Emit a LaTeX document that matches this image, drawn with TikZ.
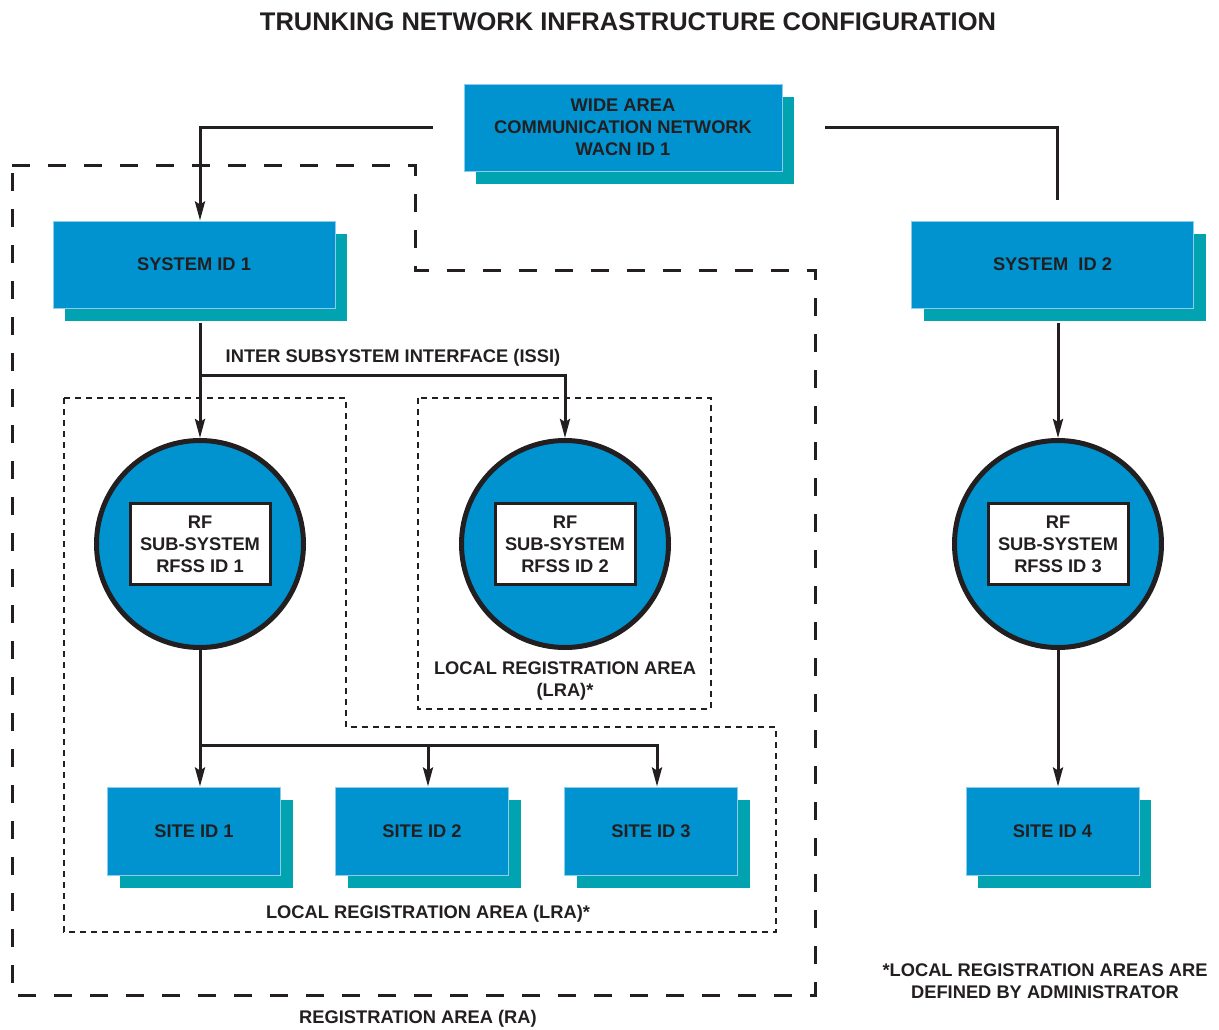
\documentclass[tikz,border=0pt]{standalone}
\usepackage{fontspec}
\setmainfont{Liberation Sans}
\usetikzlibrary{arrows.meta}
\usetikzlibrary{shadows}
\usetikzlibrary{positioning}
\definecolor{boxblue}{RGB}{0,147,208}
\definecolor{shadeteal}{RGB}{0,163,175}
\definecolor{ink}{RGB}{35,31,32}

\begin{document}
\begin{tikzpicture}[x=1pt,y=-1pt,>={Stealth[length=19pt,width=10pt,inset=3pt]},
		every node/.style={font=\fontsize{18.3}{21.8}\selectfont\bfseries,text=ink,align=center},
		unit/.style={rectangle,fill=boxblue,draw=white!55!boxblue,line width=1pt,
			drop shadow={shadow xshift=12pt,shadow yshift=-13pt,fill=shadeteal,opacity=1}},
		rfss/.style={circle,fill=boxblue,draw=ink,line width=5pt,minimum size=207pt},
		idbox/.style={rectangle,fill=white,draw=ink,line width=3pt,minimum width=140pt,minimum height=81pt,inner sep=0pt},
		link/.style={draw=ink,line width=3pt},
		ra/.style={draw=ink,line width=3pt,dash pattern=on 18pt off 18pt},
		lra/.style={draw=ink,line width=1.5pt,dash pattern=on 6pt off 5pt}]
		\useasboundingbox (0,0) rectangle (1219,1029);

		\node (title) at (628,22) {\fontsize{25.5}{29}\selectfont TRUNKING NETWORK INFRASTRUCTURE CONFIGURATION};

		% areas
		\path[ra] (12,165) -- (415,165) -- (415,270) -- (815,270) -- (815,995) -- (12,995) -- cycle;
		\path[lra] (64,398) -- (346,398) -- (346,727) -- (776,727) -- (776,932) -- (64,932) -- cycle;
		\path[lra] (418,398) rectangle (711,709);

		% boxes
		\node[unit,minimum width=318pt,minimum height=87pt] (wacn) at (623,127.5) {WIDE AREA\\COMMUNICATION NETWORK\\WACN ID 1};
		\node[unit,minimum width=282pt,minimum height=87pt] (sys1) at (194,264.5) {SYSTEM ID 1};
		\node[unit,minimum width=282pt,minimum height=87pt] (sys2) at (1052.5,264.5) {SYSTEM\ \ ID 2};

		\node[rfss] (rf1) at (200,544) {};
		\node[rfss] (rf2) at (565,544) {};
		\node[rfss] (rf3) at (1058,544) {};
		\node[idbox] (id1) at (rf1) {RF\\SUB-SYSTEM\\RFSS ID 1};
		\node[idbox] (id2) at (rf2) {RF\\SUB-SYSTEM\\RFSS ID 2};
		\node[idbox] (id3) at (rf3) {RF\\SUB-SYSTEM\\RFSS ID 3};

		\node[unit,minimum width=173pt,minimum height=88pt] (site1) at (194,831) {SITE ID 1};
		\node[unit,minimum width=173pt,minimum height=88pt] (site2) at (422,831) {SITE ID 2};
		\node[unit,minimum width=173pt,minimum height=88pt] (site3) at (651,831) {SITE ID 3};
		\node[unit,minimum width=173pt,minimum height=88pt] (site4) at (1052.5,831) {SITE ID 4};

		% labels
		\node (issi) at (393,358) {INTER SUBSYSTEM INTERFACE (ISSI)};
		\node (lra2) at (565,681) {LOCAL REGISTRATION AREA\\(LRA)*};
		\node (lra1) at (428,914) {LOCAL REGISTRATION AREA (LRA)*};
		\node (raname) at (418,1019) {REGISTRATION AREA (RA)};
		\node (note) at (1045,981) {*LOCAL REGISTRATION AREAS ARE\\DEFINED BY ADMINISTRATOR};

		% links
		\coordinate (issij) at (200,375);
		\coordinate (sitej) at (200,745);
		\coordinate (sys2in) at (1057,200);
		\draw[link,->] ([xshift=-31pt]wacn.west) -| ([xshift=6pt]sys1.north);
		\draw[link] ([xshift=42pt]wacn.east) -| (sys2in);
		\draw[link] ([xshift=6pt,yshift=-14pt]sys1.south) -- (issij);
		\draw[link,->] (issij) -- (rf1.north);
		\draw[link,->] (issij) -| (rf2.north);
		\draw[link,->] ([xshift=5.5pt,yshift=-14pt]sys2.south) -- (rf3.north);
		\draw[link] (rf1.south) -- (sitej);
		\draw[link,->] (sitej) -- ([xshift=6pt]site1.north);
		\draw[link,->] (sitej) -| ([xshift=6pt]site2.north);
		\draw[link,->] (sitej) -| ([xshift=6pt]site3.north);
		\draw[link,->] (rf3.south) -- ([xshift=5.5pt]site4.north);
		\end{tikzpicture}
\end{document}
